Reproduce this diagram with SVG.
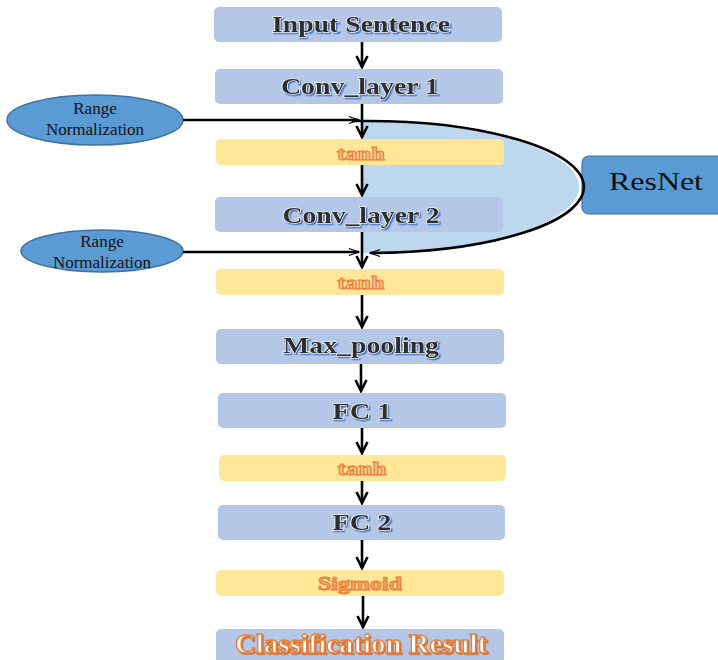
<svg xmlns="http://www.w3.org/2000/svg" width="718" height="660" viewBox="0 0 718 660">
  <defs>
    <style>
      .blue { fill: #b4c7e7; }
      .yel { fill: #ffe699; }
      .lbl { font-family: "Liberation Serif", "Times New Roman", serif; font-weight: bold; font-size: 23px; text-anchor: middle; fill: #2e2e2e; stroke: #ffffff; stroke-width: 1.2; paint-order: stroke; filter: url(#blueShadow); }
      .act { font-family: "Liberation Serif", "Times New Roman", serif; font-weight: bold; font-size: 19px; text-anchor: middle; fill: #f8c3a0; stroke: #ed7d31; stroke-width: 1; }
      .sig { fill: #f4a46c; }
      .res { font-family: "Liberation Serif", "Times New Roman", serif; font-weight: bold; font-size: 28px; text-anchor: middle; fill: #ffffff; stroke: #ed7d31; stroke-width: 1.3; filter: url(#orangeShadow); }
      .rn { fill: #5b9bd5; stroke: #41719c; stroke-width: 1.5; }
      .rnt { font-family: "Liberation Serif", "Times New Roman", serif; font-size: 17px; text-anchor: middle; fill: #111; }
      .flow { stroke: #000; stroke-width: 2.6; fill: none; marker-end: url(#head); }
      .side { stroke: #000; stroke-width: 2.4; fill: none; marker-end: url(#thin); }
    </style>
    <filter id="blueShadow" x="-10%" y="-30%" width="120%" height="160%">
      <feDropShadow dx="1.5" dy="1.5" stdDeviation="0.2" flood-color="#4472c4" flood-opacity="1"/>
    </filter>
    <filter id="orangeShadow" x="-10%" y="-30%" width="120%" height="160%">
      <feDropShadow dx="1.2" dy="1.2" stdDeviation="0.2" flood-color="#c55a11" flood-opacity="0.8"/>
    </filter>
    <marker id="head" viewBox="0 0 14 14" refX="12" refY="7" markerWidth="14" markerHeight="14" markerUnits="userSpaceOnUse" orient="auto">
      <path d="M1,1.5 L12,7 L1,12.5" fill="none" stroke="#000" stroke-width="2.6"/>
    </marker>
    <marker id="thin" viewBox="0 0 12 12" refX="11" refY="6" markerWidth="12" markerHeight="12" markerUnits="userSpaceOnUse" orient="auto">
      <path d="M1,2.5 L11,6 L1,9.5" fill="none" stroke="#000" stroke-width="1.1"/>
    </marker>
  </defs>

  <!-- residual block outline, behind the layer boxes -->
  <g id="resnet-block">
    <path d="M362,121 A217,66 0 0 1 362,253 Z" fill="#bdd7ee" stroke="none"/>
  </g>

  <g id="input-sentence">
    <rect class="blue" x="214" y="7" width="288" height="35" rx="5"/>
    <text class="lbl" x="361" y="32" textLength="178" lengthAdjust="spacingAndGlyphs">Input Sentence</text>
  </g>
  <g id="conv1">
    <rect class="blue" x="215" y="69" width="288" height="35" rx="5"/>
    <text class="lbl" x="360" y="94" textLength="158" lengthAdjust="spacingAndGlyphs">Conv_layer 1</text>
  </g>
  <g id="tanh1">
    <rect class="yel" x="216" y="139" width="288" height="26" rx="5"/>
    <text class="act" x="361" y="160" textLength="48" lengthAdjust="spacingAndGlyphs">tanh</text>
  </g>
  <g id="conv2">
    <rect class="blue" x="215" y="197" width="288" height="35" rx="5"/>
    <text class="lbl" x="361" y="223" textLength="157" lengthAdjust="spacingAndGlyphs">Conv_layer 2</text>
  </g>
  <g id="tanh2">
    <rect class="yel" x="216" y="269" width="288" height="26" rx="5"/>
    <text class="act" x="361" y="289" textLength="47" lengthAdjust="spacingAndGlyphs">tanh</text>
  </g>
  <g id="max-pooling">
    <rect class="blue" x="216" y="329" width="288" height="35" rx="5"/>
    <text class="lbl" x="361" y="353" textLength="156" lengthAdjust="spacingAndGlyphs">Max_pooling</text>
  </g>
  <g id="fc1">
    <rect class="blue" x="218" y="393" width="288" height="35" rx="5"/>
    <text class="lbl" x="362" y="419" textLength="59" lengthAdjust="spacingAndGlyphs">FC 1</text>
  </g>
  <g id="tanh3">
    <rect class="yel" x="219" y="455" width="287" height="26" rx="5"/>
    <text class="act" x="362" y="475" textLength="49" lengthAdjust="spacingAndGlyphs">tanh</text>
  </g>
  <g id="fc2">
    <rect class="blue" x="218" y="505" width="287" height="35" rx="5"/>
    <text class="lbl" x="362" y="530" textLength="59" lengthAdjust="spacingAndGlyphs">FC 2</text>
  </g>
  <g id="sigmoid">
    <rect class="yel" x="216" y="570" width="288" height="26" rx="5"/>
    <text class="act sig" x="360" y="590" textLength="84" lengthAdjust="spacingAndGlyphs">Sigmoid</text>
  </g>
  <g id="classification-result">
    <rect class="blue" x="216" y="629" width="288" height="40" rx="5"/>
    <text class="res" x="361" y="653" textLength="252" lengthAdjust="spacingAndGlyphs">Classification Result</text>
  </g>

  <g id="range-norm-1">
    <ellipse class="rn" cx="95" cy="120" rx="88" ry="25"/>
    <text class="rnt" x="95" y="114">Range</text>
    <text class="rnt" x="95" y="135">Normalization</text>
  </g>
  <g id="range-norm-2">
    <ellipse class="rn" cx="102" cy="251" rx="81" ry="21"/>
    <text class="rnt" x="102" y="247">Range</text>
    <text class="rnt" x="102" y="268">Normalization</text>
  </g>

  <g id="resnet">
    <rect x="582" y="156" width="145" height="58" rx="7" fill="#5b9bd5" stroke="#41719c" stroke-width="1.2"/>
    <text x="656" y="190" font-family="Liberation Serif, Times New Roman, serif" font-size="25" text-anchor="middle" fill="#111" textLength="94" lengthAdjust="spacingAndGlyphs">ResNet</text>
  </g>

  <g id="connectors">
    <line class="flow" x1="362" y1="42" x2="362" y2="67"/>
    <line class="flow" x1="362" y1="104" x2="362" y2="137"/>
    <line class="flow" x1="362" y1="165" x2="362" y2="195"/>
    <line class="flow" x1="362" y1="232" x2="362" y2="267"/>
    <line class="flow" x1="362" y1="295" x2="362" y2="327"/>
    <line class="flow" x1="361" y1="364" x2="361" y2="391"/>
    <line class="flow" x1="362" y1="428" x2="362" y2="453"/>
    <line class="flow" x1="362" y1="481" x2="362" y2="503"/>
    <line class="flow" x1="362" y1="540" x2="362" y2="568"/>
    <line class="flow" x1="363" y1="596" x2="363" y2="627"/>
    <line class="side" x1="183" y1="120" x2="359" y2="120"/>
    <line class="side" x1="183" y1="252" x2="359" y2="252"/>
    <path d="M352,121 L362,121 A217,66 0 0 1 372,253 L370,253" fill="none" stroke="#000" stroke-width="2.6" marker-end="url(#thin)"/>
  </g>
</svg>
